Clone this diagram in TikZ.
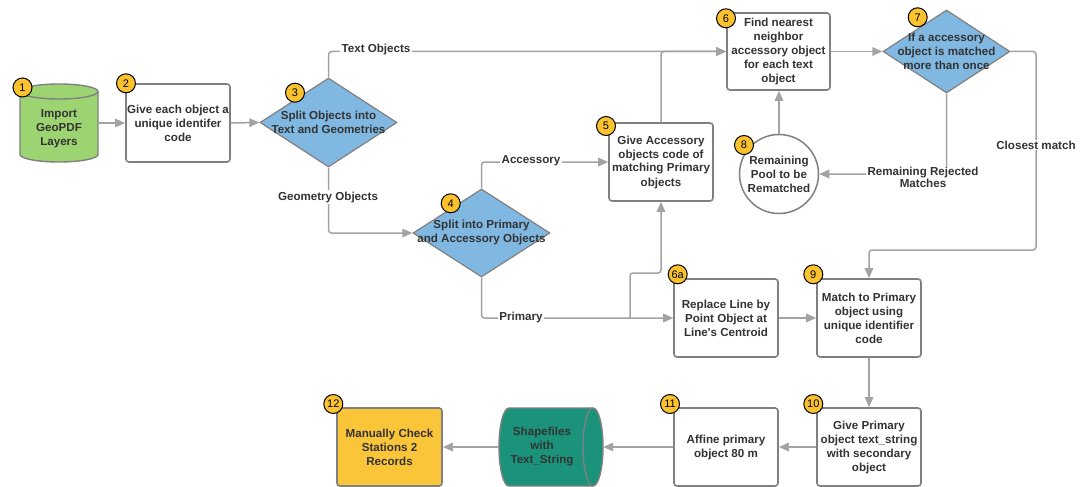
\documentclass[tikz,border=0pt]{standalone}
\usepackage{fontspec}
\setmainfont{Liberation Sans}
\usetikzlibrary{arrows.meta,shapes.geometric}

\definecolor{linegray}{HTML}{A3A3A3}
\definecolor{bordergray}{HTML}{808080}
\definecolor{txt}{HTML}{333333}
\definecolor{diamondblue}{HTML}{80B8E2}
\definecolor{badgeyellow}{HTML}{FBC22F}
\definecolor{cylgreen}{HTML}{9CD472}
\definecolor{cylteal}{HTML}{1A937A}
\definecolor{boxyellow}{HTML}{FBC53A}

\begin{document}
\begin{tikzpicture}[x=1pt,y=1pt,
  mainfont/.style={font=\bfseries\fontsize{11.6}{14}\selectfont},
  stepbox/.style={draw=bordergray, line width=1.6pt, rounded corners=3pt,
    fill=white, minimum width=104pt, minimum height=78pt, inner sep=0pt,
    align=center, text=txt, mainfont},
  decision/.style={diamond, draw=bordergray, line width=1.2pt,
    fill=diamondblue, minimum width=137pt, minimum height=89pt, inner sep=0pt},
  dtext/.style={align=center, text=txt, inner sep=0pt, mainfont},
  anchorbox/.style={minimum width=104pt, minimum height=78pt, inner sep=0pt},
  badge/.style={circle, fill=badgeyellow, draw=black, line width=1pt,
    minimum size=19pt, inner sep=0pt, text=black,
    font=\fontsize{11}{12}\selectfont},
  lbl/.style={fill=white, inner sep=1.2pt, text=txt, align=center, mainfont},
  flow/.style={draw=linegray, line width=1.5pt, rounded corners=3pt,
    -{Triangle[length=10pt,width=8.5pt]}},
]
\useasboundingbox (0,0) rectangle (1080,-487);

% ---- cylinder: Import GeoPDF Layers
\node[minimum width=78pt, minimum height=78pt, inner sep=0pt] (n1) at (59,-123) {};
\fill[cylgreen] (20,-91.5) -- (20,-154.5)
  arc[start angle=180, end angle=360, x radius=39pt, y radius=7.5pt]
  -- (98,-91.5)
  arc[start angle=0, end angle=180, x radius=39pt, y radius=7.5pt] -- cycle;
\draw[bordergray, line width=1.4pt] (20,-91.5) -- (20,-154.5)
  arc[start angle=180, end angle=360, x radius=39pt, y radius=7.5pt]
  -- (98,-91.5);
\draw[bordergray, line width=1.4pt] (59,-91.5) ellipse[x radius=39pt, y radius=7.5pt];
\node[dtext] (n1t) at (59,-129) {Import\\GeoPDF\\Layers};

% ---- process boxes and decisions
\node[stepbox] (n2) at (178,-123) {Give each object a\\unique identifer\\code};
\node[decision] (d3) at (328.5,-122.5) {};
\node[dtext] (d3t) at (d3) {Split Objects into\\Text and Geometries};
\node[decision, minimum height=88pt] (d4) at (481.5,-233) {};
\node[dtext] (d4t) at (d4) {Split into Primary\\and Accessory Objects};
\node[stepbox] (n5) at (661,-162) {Give Accessory\\objects code of\\matching Primary\\objects};
\node[stepbox, minimum width=103pt, minimum height=77pt] (n6) at (778.5,-51.5)
  {Find nearest\\neighbor\\accessory object\\for each text\\object};
\node[decision, minimum width=127pt, minimum height=83pt] (d7) at (946.5,-51.5) {};
\node[dtext] (d7t) at (d7) {If a accessory\\object is matched\\more than once};
\node[circle, draw=bordergray, line width=1.5pt, fill=white, minimum size=79pt,
  inner sep=0pt, align=center, text=txt, mainfont] (n8) at (779,-174)
  {Remaining\\Pool to be\\Rematched};
\node[stepbox] (n6a) at (726,-318) {Replace Line by\\Point Object at\\Line\textquotesingle s Centroid};
\node[stepbox] (n9) at (869,-318) {Match to Primary\\object using\\unique identifier\\code};
\node[stepbox] (n10) at (869,-447)
  {Give Primary\\object text\_string\\with secondary\\object};
\node[stepbox] (n11) at (726,-447) {Affine primary\\object 80 m};
\node[stepbox, fill=boxyellow, minimum width=105pt] (n12) at (389.5,-447)
  {Manually Check\\Stations 2\\Records};

% ---- cylinder lying on its side: Shapefiles with Text_String
\node[anchorbox] (c2) at (551,-447) {};
\fill[cylteal] (509,-408) -- (593,-408)
  arc[start angle=90, end angle=-90, x radius=10pt, y radius=39pt]
  -- (509,-486)
  arc[start angle=270, end angle=90, x radius=10pt, y radius=39pt] -- cycle;
\draw[bordergray, line width=1.4pt] (593,-408) -- (509,-408)
  arc[start angle=90, end angle=270, x radius=10pt, y radius=39pt]
  -- (593,-486);
\draw[bordergray, line width=1.4pt] (593,-447) ellipse[x radius=10pt, y radius=39pt];
\node[dtext] (c2t) at (542,-447) {Shapefiles\\with\\Text\_String};

% ---- bend points of the Primary branch and the closest-match route
\coordinate (br) at (630,-318);
\coordinate (jog) at (630,-273);
\coordinate (cm) at (1036,-250);

% ---- connectors
\draw[flow] (n1.east |- n2.west) -- (n2.west);
\draw[flow] (n2.east) -- (d3.west);
\draw[flow] (d3.north) |- (n6.west);
\draw[flow] (n5.north) |- (n6.west);
\draw[flow] (d3.south) |- (d4.west);
\draw[flow] (d4.north) |- (n5.west);
\draw[flow] (d4.south) |- (n6a.west);
\draw[flow] (br) -- (jog) -| (n5.south);
\draw[flow] (n6.east) -- (d7.west);
\draw[flow] (d7.east) -| (cm) -| (n9.north);
\draw[flow] (d7.south) |- (n8.east);
\draw[flow] (n8.north) -- (n8.north |- n6.south);
\draw[flow] (n6a.east) -- (n9.west);
\draw[flow] (n9.south) -- (n10.north);
\draw[flow] (n10.west) -- (n11.east);
\draw[flow] (n11.west) -- (c2.east);
\draw[flow] (c2.west) -- (n12.east);

% ---- connector labels
\node[lbl] (l1) at (376,-50) {Text Objects};
\node[lbl] (l2) at (328,-197) {Geometry Objects};
\node[lbl] (l3) at (531,-160.5) {Accessory};
\node[lbl] (l4) at (521,-317) {Primary};
\node[lbl] (l5) at (1036,-145) {Closest match};
\node[lbl, font=\bfseries\fontsize{11.6}{9.5}\selectfont] (l6) at (923,-177.5)
  {Remaining Rejected\\Matches};

% ---- step numbers
\node[badge] (b1) at (22.5,-87.5) {1};
\node[badge] (b2) at (126,-83.3) {2};
\node[badge] (b3) at (295,-92.7) {3};
\node[badge] (b4) at (450.7,-203.3) {4};
\node[badge] (b5) at (606,-126) {5};
\node[badge] (b6) at (726,-18.3) {6};
\node[badge] (b7) at (917.7,-17.3) {7};
\node[badge] (b8) at (744,-145) {8};
\node[badge] (b6a) at (677.7,-274.3) {6a};
\node[badge] (b9) at (813.3,-274.3) {9};
\node[badge] (b10) at (813.3,-404) {10};
\node[badge] (b11) at (670,-404) {11};
\node[badge] (b12) at (333.3,-404) {12};
\end{tikzpicture}
\end{document}
